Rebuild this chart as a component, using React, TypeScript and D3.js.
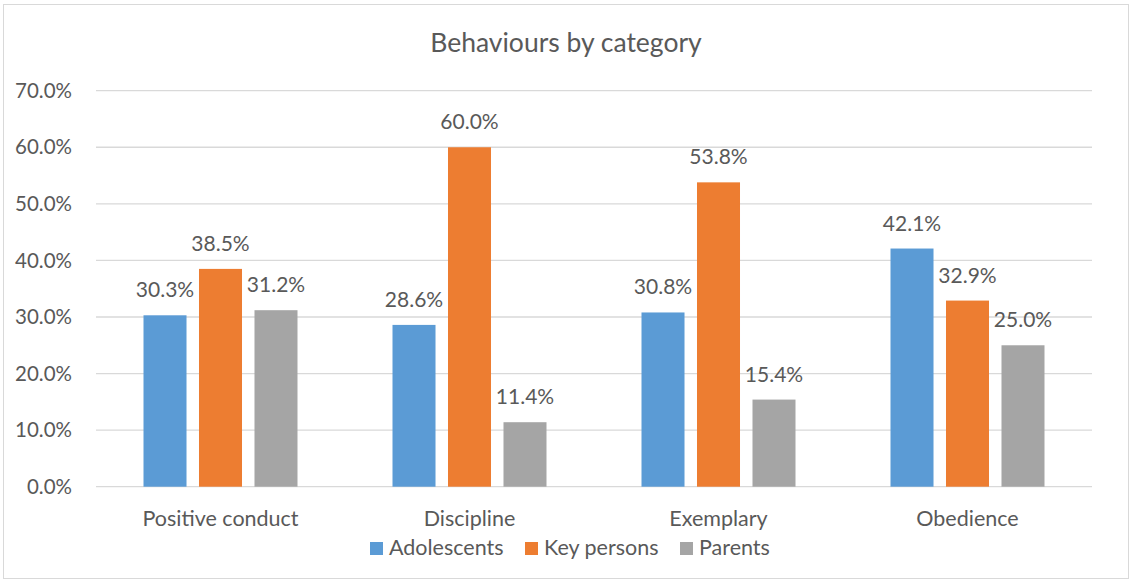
import React from "react";
import * as d3 from "d3";

const categories = ["Positive conduct", "Discipline", "Exemplary", "Obedience"];
const seriesNames = ["Adolescents", "Key persons", "Parents"];
const adolescents = [0.303, 0.286, 0.308, 0.421];
const keyPersons = [0.385, 0.6, 0.538, 0.329];
const parents = [0.312, 0.114, 0.154, 0.25];
const yTicks = [0, 0.1, 0.2, 0.3, 0.4, 0.5, 0.6, 0.7];
const colors = ["#5B9BD5", "#ED7D31", "#A5A5A5"];

const W = 1131;
const H = 581;
const FONT = "Lato, 'Noto Sans', sans-serif";
const TEXT = "#595959";

export default function App() {
  const values = [adolescents, keyPersons, parents];
  const x0 = d3
    .scaleBand<string>()
    .domain(categories)
    .range([96, 1092])
    .paddingInner(95 / 249)
    .paddingOuter(95 / 249 / 2);
  const x1 = d3
    .scaleBand<string>()
    .domain(seriesNames)
    .range([0, x0.bandwidth()])
    .paddingInner(0.225);
  const y = d3.scaleLinear().domain([0, 0.7]).range([486.7, 90.7]);
  const fmt = (v: number) => (v * 100).toFixed(1) + "%";

  const legendX = [370, 525, 680];

  return (
    <svg
      width={W}
      height={H}
      style={{ position: "absolute", left: 0, top: 0, background: "#fff" }}
      fontFamily={FONT}
    >
      <rect x={3.5} y={4.5} width={1125} height={574} fill="#fff" stroke="#D9D9D9" strokeWidth={1} />
      <text x={566} y={52} textAnchor="middle" fontSize={26.5} fill={TEXT}>
        Behaviours by category
      </text>
      {yTicks.map((t) => (
        <g key={t}>
          <line x1={96} x2={1092} y1={y(t)} y2={y(t)} stroke="#D9D9D9" strokeWidth={1.3} />
          <text x={72} y={y(t) + 7.2} textAnchor="end" fontSize={20.5} fill={TEXT}>
            {fmt(t)}
          </text>
        </g>
      ))}
      {categories.map((c, ci) => (
        <g key={c} transform={`translate(${x0(c)},0)`}>
          {seriesNames.map((s, si) => {
            const v = values[si][ci];
            const bx = x1(s)!;
            return (
              <g key={s}>
                <rect x={bx} y={y(v)} width={x1.bandwidth()} height={y(0) - y(v)} fill={colors[si]} />
                <text
                  x={bx + x1.bandwidth() / 2}
                  y={y(v) - 18}
                  textAnchor="middle"
                  fontSize={21}
                  fill={TEXT}
                >
                  {fmt(v)}
                </text>
              </g>
            );
          })}
          <text x={x0.bandwidth() / 2} y={526} textAnchor="middle" fontSize={21.5} fill={TEXT}>
            {c}
          </text>
        </g>
      ))}
      {seriesNames.map((s, si) => (
        <g key={s}>
          <rect x={legendX[si]} y={542} width={13} height={13} fill={colors[si]} />
          <text x={legendX[si] + 19} y={555} fontSize={21.5} fill={TEXT}>
            {s}
          </text>
        </g>
      ))}
    </svg>
  );
}
